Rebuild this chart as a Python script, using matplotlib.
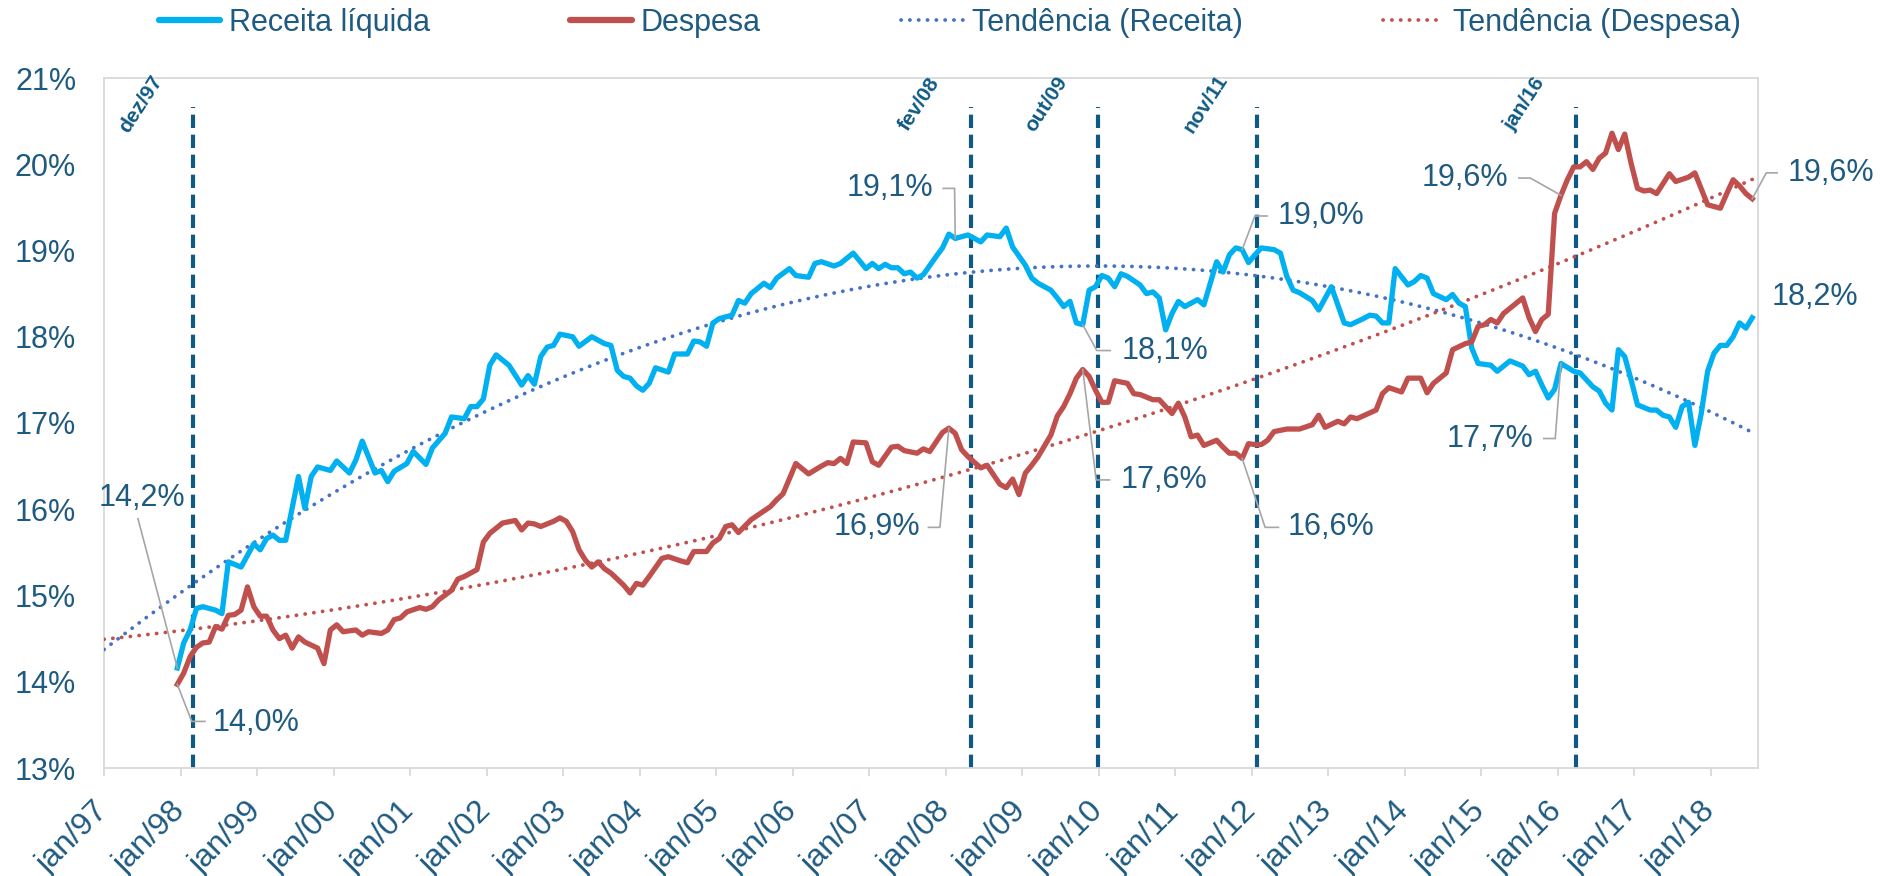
import numpy as np
import matplotlib
matplotlib.use("Agg")
import matplotlib.pyplot as plt
from matplotlib.lines import Line2D

plt.rcParams['font.family'] = ['Liberation Sans', 'DejaVu Sans']

# meses contados a partir de jan/97 (0 = jan/97), valores em % do PIB
receita_mes = [11, 12, 13, 14, 15, 17, 18, 19, 21, 23, 24, 25, 26, 27, 28, 30, 31, 32, 33, 35,
               36, 38, 39, 40, 42, 43, 44, 45, 47, 48, 50, 51, 53, 54, 56, 57, 58, 59, 60, 61,
               63, 65, 66, 67, 68, 69, 70, 71, 73, 74, 76, 78, 79, 80, 81, 82, 83, 84, 85, 86,
               88, 89, 91, 92, 93, 94, 95, 96, 98, 99, 100, 101, 103, 104, 105, 107, 108, 110, 111, 112,
               114, 115, 117, 119, 120, 121, 122, 123, 124, 125, 126, 127, 128, 130, 131, 132, 133, 135, 137, 138,
               140, 141, 142, 144, 145, 146, 148, 149, 150, 151, 152, 153, 154, 155, 156, 157, 158, 159, 160, 162,
               163, 164, 165, 166, 167, 168, 169, 171, 172, 174, 175, 176, 177, 178, 179, 180, 181, 183, 184, 185,
               186, 187, 189, 190, 192, 194, 195, 197, 198, 199, 200, 201, 202, 204, 205, 206, 207, 208, 210, 211,
               212, 213, 214, 215, 217, 218, 220, 222, 223, 224, 225, 226, 227, 228, 230, 231, 232, 233, 234, 235,
               236, 237, 238, 239, 240, 242, 243, 244, 245, 246, 247, 248, 249, 250, 251, 252, 253, 254, 255, 256,
               257, 258]
receita_val = [14.16, 14.45, 14.60, 14.85, 14.87, 14.83, 14.79, 15.39, 15.33, 15.60, 15.53, 15.66, 15.70, 15.64, 15.64, 16.38, 16.01, 16.38, 16.49, 16.45,
               16.56, 16.42, 16.57, 16.79, 16.42, 16.45, 16.32, 16.44, 16.53, 16.67, 16.52, 16.71, 16.88, 17.07, 17.05, 17.19, 17.19, 17.28, 17.67, 17.79,
               17.67, 17.44, 17.55, 17.45, 17.77, 17.88, 17.90, 18.03, 18.00, 17.89, 18.00, 17.92, 17.90, 17.61, 17.54, 17.52, 17.43, 17.38, 17.46, 17.64,
               17.59, 17.80, 17.80, 17.95, 17.94, 17.89, 18.16, 18.21, 18.25, 18.42, 18.39, 18.50, 18.62, 18.57, 18.68, 18.79, 18.71, 18.69, 18.85, 18.87,
               18.82, 18.85, 18.97, 18.79, 18.85, 18.79, 18.84, 18.80, 18.80, 18.73, 18.75, 18.68, 18.72, 18.93, 19.03, 19.19, 19.14, 19.18, 19.10, 19.18,
               19.16, 19.26, 19.04, 18.83, 18.68, 18.62, 18.54, 18.45, 18.35, 18.41, 18.16, 18.14, 18.54, 18.58, 18.71, 18.68, 18.58, 18.73, 18.70, 18.60,
               18.50, 18.52, 18.45, 18.08, 18.27, 18.41, 18.35, 18.43, 18.37, 18.87, 18.75, 18.95, 19.03, 19.01, 18.86, 18.95, 19.03, 19.01, 18.97, 18.70,
               18.54, 18.51, 18.42, 18.31, 18.58, 18.16, 18.14, 18.21, 18.25, 18.24, 18.16, 18.16, 18.79, 18.60, 18.64, 18.71, 18.68, 18.50, 18.43, 18.49,
               18.39, 18.35, 17.87, 17.69, 17.67, 17.60, 17.72, 17.66, 17.56, 17.60, 17.44, 17.29, 17.39, 17.69, 17.60, 17.58, 17.50, 17.42, 17.37, 17.23,
               17.15, 17.85, 17.77, 17.50, 17.21, 17.15, 17.15, 17.09, 17.07, 16.95, 17.19, 17.24, 16.74, 17.11, 17.60, 17.81, 17.90, 17.90, 18.00, 18.16,
               18.10, 18.22]

despesa_mes = [11, 12, 13, 14, 15, 16, 17, 18, 19, 20, 21, 22, 23, 24, 25, 26, 27, 28, 29, 30,
               31, 33, 34, 35, 36, 37, 39, 40, 41, 43, 44, 45, 46, 47, 49, 50, 51, 52, 54, 55,
               56, 58, 59, 60, 61, 62, 64, 65, 66, 67, 68, 70, 71, 72, 73, 74, 75, 76, 77, 78,
               79, 81, 82, 83, 84, 85, 87, 88, 90, 91, 92, 94, 95, 96, 97, 98, 99, 101, 102, 104,
               105, 106, 108, 110, 112, 113, 114, 115, 116, 117, 119, 120, 121, 123, 124, 125, 127, 128, 129, 131,
               132, 133, 134, 135, 137, 138, 140, 141, 142, 143, 144, 145, 146, 148, 149, 150, 151, 152, 153, 154,
               155, 156, 157, 158, 160, 161, 162, 164, 165, 166, 167, 168, 169, 170, 171, 172, 174, 175, 176, 177,
               178, 179, 180, 181, 182, 183, 185, 187, 189, 190, 191, 193, 194, 195, 196, 199, 200, 201, 203, 204,
               206, 207, 208, 210, 211, 213, 214, 215, 216, 217, 218, 219, 220, 222, 223, 224, 225, 226, 227, 228,
               229, 230, 231, 232, 233, 234, 235, 236, 237, 238, 239, 240, 241, 242, 243, 245, 246, 248, 249, 251,
               252, 253, 254, 255, 256, 257, 258]
despesa_val = [13.97, 14.10, 14.29, 14.40, 14.45, 14.46, 14.64, 14.61, 14.77, 14.78, 14.83, 15.10, 14.87, 14.76, 14.76, 14.60, 14.50, 14.54, 14.39, 14.52,
               14.46, 14.39, 14.21, 14.60, 14.66, 14.58, 14.60, 14.54, 14.58, 14.56, 14.60, 14.72, 14.74, 14.81, 14.86, 14.84, 14.87, 14.95, 15.06, 15.19,
               15.22, 15.30, 15.62, 15.72, 15.78, 15.84, 15.87, 15.76, 15.84, 15.83, 15.80, 15.86, 15.90, 15.86, 15.74, 15.53, 15.41, 15.33, 15.39, 15.31,
               15.26, 15.12, 15.03, 15.14, 15.12, 15.22, 15.43, 15.45, 15.40, 15.38, 15.51, 15.51, 15.61, 15.66, 15.80, 15.82, 15.73, 15.88, 15.93, 16.03,
               16.11, 16.18, 16.53, 16.41, 16.50, 16.54, 16.53, 16.59, 16.53, 16.78, 16.77, 16.55, 16.51, 16.72, 16.73, 16.68, 16.65, 16.70, 16.67, 16.89,
               16.94, 16.88, 16.69, 16.61, 16.48, 16.51, 16.29, 16.25, 16.35, 16.17, 16.42, 16.51, 16.61, 16.86, 17.08, 17.19, 17.34, 17.52, 17.62, 17.54,
               17.38, 17.24, 17.24, 17.49, 17.46, 17.34, 17.33, 17.27, 17.27, 17.19, 17.11, 17.23, 17.07, 16.84, 16.86, 16.74, 16.80, 16.72, 16.65, 16.65,
               16.59, 16.76, 16.75, 16.75, 16.80, 16.90, 16.93, 16.93, 16.98, 17.09, 16.95, 17.02, 16.99, 17.07, 17.05, 17.15, 17.34, 17.41, 17.36, 17.52,
               17.52, 17.35, 17.46, 17.58, 17.85, 17.92, 17.94, 18.12, 18.14, 18.20, 18.16, 18.27, 18.33, 18.45, 18.22, 18.06, 18.20, 18.26, 19.43, 19.64,
               19.82, 19.97, 19.97, 20.03, 19.94, 20.07, 20.13, 20.36, 20.17, 20.35, 20.01, 19.72, 19.69, 19.70, 19.66, 19.89, 19.80, 19.85, 19.90, 19.53,
               19.51, 19.49, 19.66, 19.82, 19.75, 19.66, 19.60]

assert len(receita_mes) == len(receita_val)
assert len(despesa_mes) == len(despesa_val)

anos = list(range(1997, 2019))
rotulos_x = ["jan/%02d" % (a % 100) for a in anos]
niveis_y = [13, 14, 15, 16, 17, 18, 19, 20, 21]

eventos = ["dez/97", "fev/08", "out/09", "nov/11", "jan/16"]
eventos_mes = [11, 133, 153, 178, 228]

legenda = ["Receita líquida", "Despesa", "Tendência (Receita)", "Tendência (Despesa)"]

COR_TEXTO = "#1F5A80"
COR_RECEITA = "#00B0F0"
COR_DESPESA = "#C0504D"
COR_TEND_REC = "#4472C4"
COR_EVENTO = "#0F5A85"
COR_GUIA = "#A6A6A6"
COR_EIXO = "#D9D9D9"

# rótulos de dados: série, mês, posição do texto, alinhamento, pontos da linha guia
rotulos = [
    ("receita", 11, (5.9, 16.13), "center", [(5.33, 15.89)]),
    ("despesa", 11, (17.1, 13.52), "left", [(13.76, 13.54), (15.84, 13.54)]),
    ("receita", 133, (130.0, 19.72), "right", [(133.4, 19.72), (131.6, 19.72)]),
    ("despesa", 132, (128.0, 15.79), "right", [(131.1, 15.79), (129.3, 15.79)]),
    ("receita", 153, (159.6, 17.84), "left", [(155.7, 17.84), (157.8, 17.84)]),
    ("despesa", 153, (159.4, 16.34), "left", [(155.6, 16.34), (157.7, 16.34)]),
    ("receita", 178, (184.0, 19.40), "left", [(180.5, 19.40), (182.4, 19.40)]),
    ("despesa", 178, (185.7, 15.79), "left", [(182.1, 15.79), (184.2, 15.79)]),
    ("despesa", 228, (220.2, 19.84), "right", [(223.7, 19.84), (221.9, 19.84)]),
    ("receita", 228, (224.2, 16.82), "right", [(227.6, 16.82), (225.8, 16.82)]),
    ("despesa", 258, (264.0, 19.90), "left", [(260.7, 19.90), (262.4, 19.90)]),
    ("receita", 258, (261.6, 18.46), "left", []),
]

series = {
    "receita": (np.array(receita_mes) + 0.5, np.array(receita_val)),
    "despesa": (np.array(despesa_mes) + 0.5, np.array(despesa_val)),
}

fig = plt.figure(figsize=(18.81, 8.76), dpi=100)
ax = fig.add_axes([104 / 1881, 1 - 768 / 876, (1758 - 104) / 1881, (768 - 78) / 876])

xr, yr = series["receita"]
xd, yd = series["despesa"]

# tendências polinomiais (ordem 2), estendidas até jan/97
coef_r = np.polyfit(xr, yr, 2)
coef_d = np.polyfit(xd, yd, 2)
xt = np.linspace(0, xr[-1], 400)
dot = (0, (0.05, 2.3))
ax.plot(xt, np.polyval(coef_r, xt), color=COR_TEND_REC, lw=2.7, linestyle=dot,
        dash_capstyle="round", zorder=3)
ax.plot(xt, np.polyval(coef_d, xt), color=COR_DESPESA, lw=2.7, linestyle=dot,
        dash_capstyle="round", zorder=3)

ax.plot(xr, yr, color=COR_RECEITA, lw=3.8, solid_joinstyle="round", zorder=4)
ax.plot(xd, yd, color=COR_DESPESA, lw=3.8, solid_joinstyle="round", zorder=4)

# linhas verticais dos eventos
for nome, mes in zip(eventos, eventos_mes):
    xe = mes + 0.5 + 2.4
    ax.plot([xe, xe], [13, 20.66], color=COR_EVENTO, lw=3, linestyle=(0, (3.2, 1.6)),
            zorder=2)
    ax.annotate(nome, xy=(xe, 20.7), xytext=(-37, 0), textcoords="offset points",
                rotation=57, ha="center", va="center", fontsize=15, fontweight="bold",
                color=COR_EVENTO, zorder=5)

# rótulos de dados com linhas guia
for serie, mes, (tx, ty), ha, guia in rotulos:
    xs, ys = series[serie]
    i = list(xs).index(mes + 0.5)
    px, py = xs[i], ys[i]
    txt = ("%.1f%%" % py).replace(".", ",")
    if guia:
        gx = [px] + [g[0] for g in guia]
        gy = [py] + [g[1] for g in guia]
        ax.plot(gx, gy, color=COR_GUIA, lw=1.2, clip_on=False, zorder=5)
    ax.text(tx, ty, txt, ha=ha, va="center", fontsize=22, color=COR_TEXTO,
            clip_on=False, zorder=6)

ax.set_xlim(0, 259.4)
ax.set_ylim(13, 21)

ax.set_xticks(np.arange(0, 12 * len(anos), 12))
ax.set_xticklabels(rotulos_x)
ax.set_yticks(niveis_y)
ax.set_yticklabels(["%d%%" % v for v in niveis_y])

ax.tick_params(axis="x", length=6, width=1.3, color=COR_EIXO, direction="out",
               labelsize=23, labelcolor=COR_TEXTO, pad=22)
ax.tick_params(axis="y", length=0, labelsize=22, labelcolor=COR_TEXTO, pad=20)
for lab in ax.get_xticklabels():
    lab.set_rotation(45)
    lab.set_ha("right")
    lab.set_va("center")
    lab.set_rotation_mode("anchor")

for s in ax.spines.values():
    s.set_color(COR_EIXO)
    s.set_linewidth(1.3)

handles = [
    Line2D([], [], color=COR_RECEITA, lw=4.5, solid_capstyle="round"),
    Line2D([], [], color=COR_DESPESA, lw=4.5, solid_capstyle="round"),
    Line2D([], [], color=COR_TEND_REC, lw=2.7, linestyle=dot, dash_capstyle="round"),
    Line2D([], [], color=COR_DESPESA, lw=2.7, linestyle=dot, dash_capstyle="round"),
]
fig.legend(handles, legenda, loc="center", bbox_to_anchor=(0.505, 1 - 23 / 876), ncol=4,
           frameon=False, fontsize=22, handlelength=2.0, handletextpad=0.3,
           columnspacing=4.6, labelcolor=COR_TEXTO)

fig.savefig("out.png", dpi=100, facecolor="white")
